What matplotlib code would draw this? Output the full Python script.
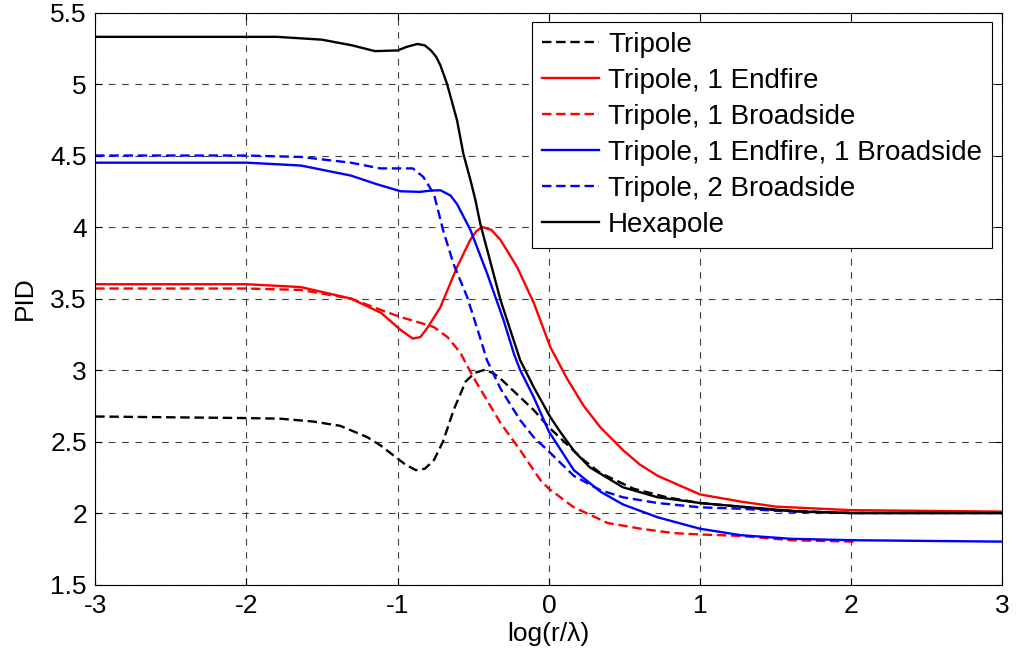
import matplotlib
matplotlib.use("Agg")
import matplotlib.pyplot as plt

# точки: x = log(r/lambda), y = PID
x_hex = [-3.0, -1.8, -1.5, -1.3, -1.15, -1.0, -0.94, -0.87, -0.82, -0.78, -0.745, -0.717,
         -0.673, -0.607, -0.565, -0.519, -0.486, -0.453, -0.32, -0.255, -0.19, -0.10,
         0.01, 0.08, 0.17, 0.27, 0.49, 0.72, 1.0, 1.27, 1.66, 2.0, 3.0]
y_hex = [5.33, 5.33, 5.31, 5.27, 5.23, 5.235, 5.26, 5.28, 5.27, 5.235, 5.19, 5.13,
         5.00, 4.745, 4.51, 4.33, 4.19, 4.02, 3.49, 3.28, 3.07, 2.88,
         2.67, 2.56, 2.43, 2.32, 2.18, 2.11, 2.07, 2.045, 2.01, 2.00, 2.00]

x_tri = [-3.0, -2.0, -1.78, -1.56, -1.38, -1.2, -1.11, -0.95, -0.88, -0.82, -0.76, -0.70,
         -0.63, -0.55, -0.49, -0.43, -0.37, -0.32, -0.19, -0.1, 0.0, 0.12, 0.23, 0.34,
         0.56, 0.78, 1.0, 1.5, 2.0, 3.0]
y_tri = [2.675, 2.664, 2.66, 2.64, 2.61, 2.53, 2.47, 2.34, 2.30, 2.31, 2.37, 2.50,
         2.72, 2.92, 2.98, 3.00, 2.98, 2.94, 2.81, 2.72, 2.60, 2.48, 2.37, 2.28,
         2.17, 2.11, 2.07, 2.02, 2.00, 2.00]

x_end = [-3.0, -2.0, -1.64, -1.31, -1.11, -0.98, -0.9, -0.85, -0.80, -0.717, -0.607,
         -0.52, -0.48, -0.442, -0.38, -0.32, -0.21, -0.10, 0.01, 0.12, 0.23, 0.34,
         0.49, 0.60, 0.72, 1.0, 1.27, 1.5, 2.0, 3.0]
y_end = [3.60, 3.60, 3.58, 3.50, 3.40, 3.28, 3.22, 3.23, 3.30, 3.44, 3.72,
         3.91, 3.97, 4.00, 3.98, 3.91, 3.72, 3.47, 3.16, 2.94, 2.75, 2.60,
         2.44, 2.34, 2.26, 2.13, 2.08, 2.045, 2.02, 2.01]

x_brd = [-3.0, -2.0, -1.64, -1.31, -1.11, -0.98, -0.85, -0.76, -0.67, -0.585, -0.5,
         -0.41, -0.32, -0.19, -0.056, 0.0, 0.165, 0.39, 0.61, 0.82, 1.0, 1.27, 1.6,
         2.0, 2.04]
y_brd = [3.57, 3.57, 3.56, 3.50, 3.42, 3.37, 3.33, 3.30, 3.23, 3.12, 2.95,
         2.79, 2.63, 2.44, 2.23, 2.17, 2.04, 1.93, 1.89, 1.86, 1.85, 1.84, 1.81,
         1.80, 1.80]

x_eb = [-3.0, -2.0, -1.64, -1.31, -1.14, -0.98, -0.85, -0.78, -0.717, -0.65, -0.607,
        -0.519, -0.41, -0.30, -0.23, -0.19, -0.10, 0.0, 0.165, 0.34, 0.49, 0.72, 1.0,
        1.27, 1.6, 2.0, 3.0]
y_eb = [4.45, 4.45, 4.43, 4.36, 4.30, 4.25, 4.246, 4.255, 4.257, 4.22, 4.16,
        3.98, 3.68, 3.35, 3.11, 3.00, 2.81, 2.57, 2.30, 2.15, 2.06, 1.97, 1.89,
        1.845, 1.82, 1.81, 1.80]

x_2b = [-3.0, -2.0, -1.64, -1.31, -1.115, -0.90, -0.83, -0.76, -0.70, -0.63, -0.54,
        -0.45, -0.41, -0.32, -0.19, -0.10, 0.0, 0.165, 0.34, 0.49, 0.72, 1.0, 1.27, 1.6,
        2.0, 3.0]
y_2b = [4.50, 4.50, 4.49, 4.45, 4.41, 4.41, 4.35, 4.23, 3.98, 3.74, 3.51,
        3.21, 3.07, 2.87, 2.65, 2.53, 2.43, 2.26, 2.16, 2.11, 2.07, 2.04, 2.03, 2.01,
        2.00, 2.00]

x_ticks = [-3, -2, -1, 0, 1, 2, 3]
y_ticks = [1.5, 2, 2.5, 3, 3.5, 4, 4.5, 5, 5.5]

plt.rcParams["font.family"] = ["Liberation Sans", "DejaVu Sans"]
plt.rcParams["axes.unicode_minus"] = False

fig = plt.figure(figsize=(10.24, 6.59), dpi=100)
ax = fig.add_axes([0.093, 0.113, 0.886, 0.868])

dash = (0, (4, 2))
lw = 1.7
ax.plot(x_tri, y_tri, color="k", ls=dash, lw=lw, label="Tripole")
ax.plot(x_end, y_end, color="r", ls="-", lw=lw, label="Tripole, 1 Endfire")
ax.plot(x_brd, y_brd, color="r", ls=dash, lw=lw, label="Tripole, 1 Broadside")
ax.plot(x_eb, y_eb, color="b", ls="-", lw=lw, label="Tripole, 1 Endfire, 1 Broadside")
ax.plot(x_2b, y_2b, color="b", ls=dash, lw=lw, label="Tripole, 2 Broadside")
ax.plot(x_hex, y_hex, color="k", ls="-", lw=lw, label="Hexapole")

ax.set_xlim(-3, 3)
ax.set_ylim(1.5, 5.5)
ax.set_xticks(x_ticks)
ax.set_yticks(y_ticks)
ax.set_xticklabels([str(v) for v in x_ticks])
ax.set_yticklabels([f"{v:g}" for v in y_ticks])
ax.tick_params(direction="in", top=True, right=True, length=5, labelsize=19)
ax.tick_params(axis="y", pad=6)
ax.tick_params(axis="x", pad=7)
ax.grid(True, color="0.25", ls=(0, (6, 6)), lw=0.8)
ax.set_xlabel("log(r/λ)", fontsize=19, labelpad=3)
ax.set_ylabel("PID", fontsize=19, labelpad=10)
for s in ax.spines.values():
    s.set_linewidth(0.8)

leg = ax.legend(loc="upper right", fontsize=20, fancybox=False, framealpha=1,
                edgecolor="k", handlelength=2.05, handletextpad=0.32,
                borderpad=0.35, borderaxespad=0.0,
                bbox_to_anchor=(0.988, 0.983), labelspacing=0.36)
leg.get_frame().set_linewidth(0.8)

fig.savefig("out.png", dpi=100)
